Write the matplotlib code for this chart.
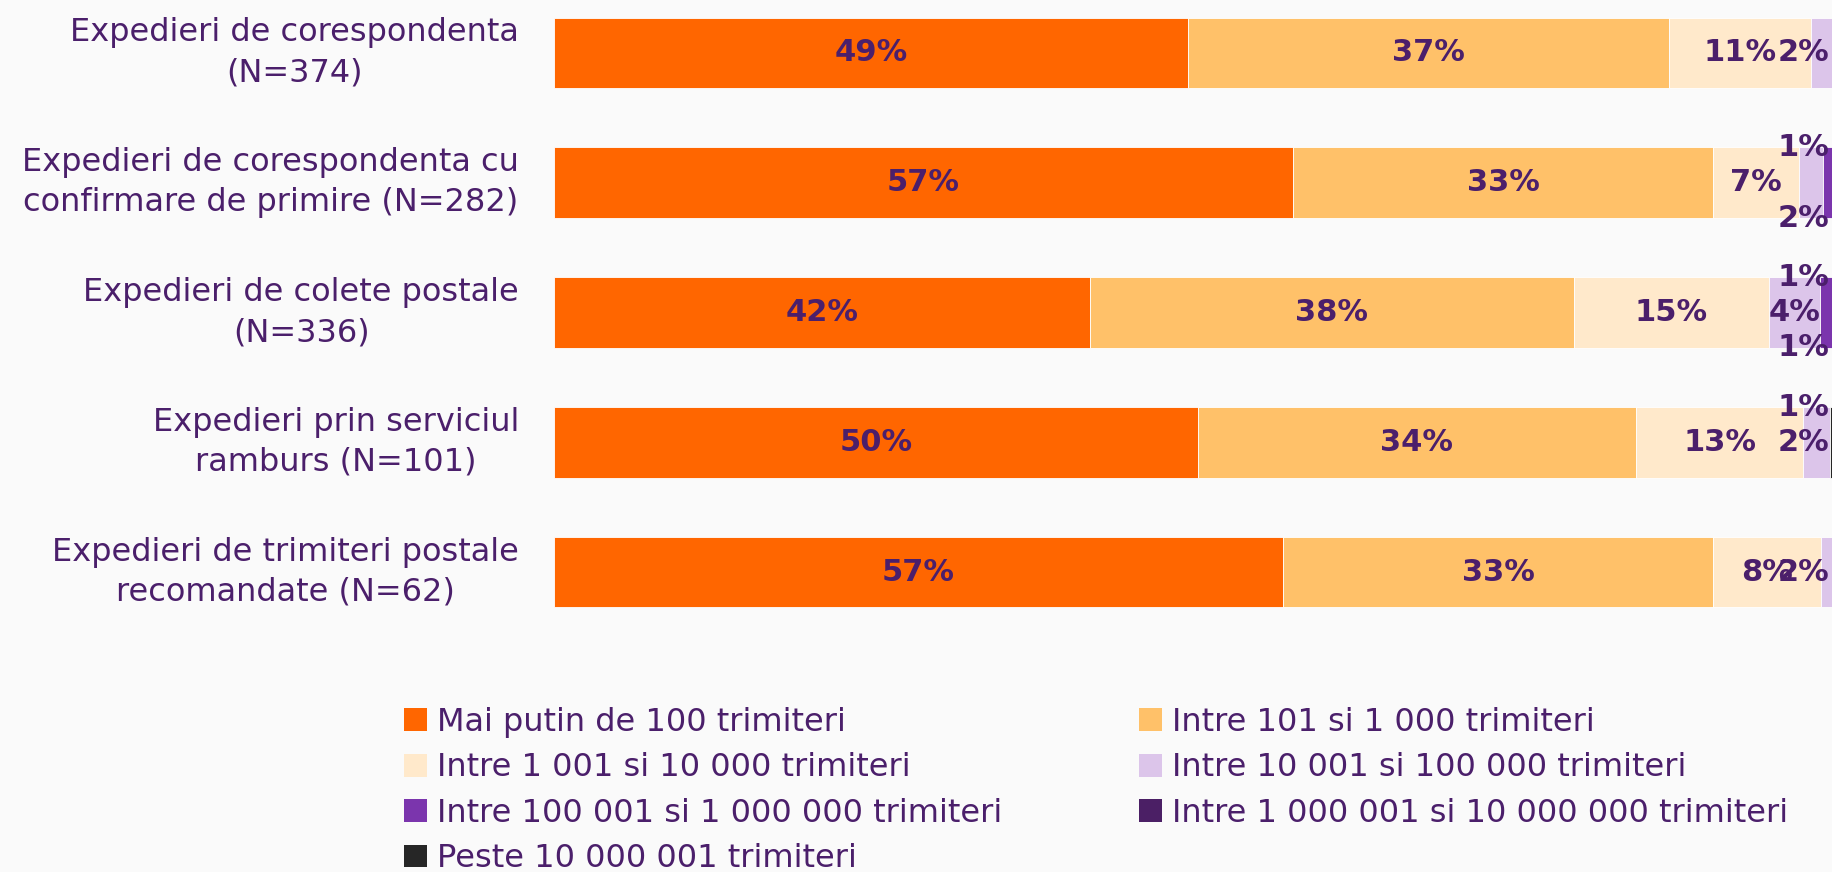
import numpy as np
import matplotlib.pyplot as plt
from matplotlib.patches import Patch

# data (segment widths, labels are rounded)
categories = [
    'Expedieri de corespondenta\n(N=374)',
    'Expedieri de corespondenta cu\nconfirmare de primire (N=282)',
    'Expedieri de colete postale\n(N=336)',
    'Expedieri prin serviciul\nramburs (N=101)',
    'Expedieri de trimiteri postale\nrecomandate (N=62)',
]
series_names = [
    'Mai putin de 100 trimiteri',
    'Intre 101 si 1 000 trimiteri',
    'Intre 1 001 si 10 000 trimiteri',
    'Intre 10 001 si 100 000 trimiteri',
    'Intre 100 001 si 1 000 000 trimiteri',
    'Intre 1 000 001 si 10 000 000 trimiteri',
    'Peste 10 000 001 trimiteri',
]
mai_putin_100 = [49.2, 57.4, 41.6, 50.0, 56.6]
intre_101 = [37.4, 32.6, 37.6, 34.0, 33.4]
intre_1001 = [11.0, 6.7, 15.1, 13.0, 8.4]
intre_10001 = [2.4, 1.8, 4.0, 2.1, 1.6]
intre_100001 = [0, 1.4, 1.0, 0, 0]
intre_1000001 = [0, 0, 0.7, 0, 0]
peste_10000001 = [0, 0, 0, 0.9, 0]

values = [mai_putin_100, intre_101, intre_1001, intre_10001,
          intre_100001, intre_1000001, peste_10000001]
colors = ['#ff6600', '#ffc169', '#ffe9cb', '#dcc5ea', '#7b35ad', '#4b1f65', '#262626']
txt = '#4b1f6b'
bg = '#fafafa'

# where the small labels were moved by hand: (series, bar) -> above / below
label_pos = {(3, 1): 'below', (4, 1): 'above', (4, 2): 'above',
             (5, 2): 'below', (6, 3): 'above'}

fig = plt.figure(figsize=(18.33, 8.72), dpi=100, facecolor=bg)
ax = fig.add_axes([0.3022, 0.2546, 0.7027, 0.7454])
ax.set_facecolor(bg)

y = np.arange(len(categories))
h = 0.544
left = np.zeros(len(categories))
for i, vals in enumerate(values):
    vals = np.array(vals, dtype=float)
    ax.barh(y, vals, left=left, height=h, color=colors[i],
            edgecolor='white', linewidth=0.6)
    for j, v in enumerate(vals):
        if v <= 0:
            continue
        xc = min(left[j] + v / 2, 97.0)
        pos = label_pos.get((i, j), 'center')
        yc = y[j] + {'center': 0, 'above': -h / 2, 'below': h / 2}[pos]
        ax.text(xc, yc, f'{round(v):d}%', ha='center', va='center',
                fontsize=22, fontweight='bold', color=txt, clip_on=False)
    left += vals

ax.set_xlim(0, 100)
ax.set_ylim(4.6, -0.408)
ax.set_yticks(y)
ax.set_yticklabels(categories, fontsize=23, color=txt, linespacing=1.38)
for lbl in ax.get_yticklabels():
    lbl.set_multialignment('center')
    lbl.set_verticalalignment('center')
ax.tick_params(axis='y', length=0, pad=25)
ax.set_xticks([])
for s in ax.spines.values():
    s.set_visible(False)

handles = [Patch(facecolor=c, edgecolor='none') for c in colors]
leg_kw = dict(loc='upper left', frameon=False, fontsize=23, labelcolor=txt,
              handlelength=0.72, handleheight=0.72, handletextpad=0.3,
              labelspacing=0.45, borderpad=0, borderaxespad=0)
fig.legend(handles[0::2], series_names[0::2],
           bbox_to_anchor=(404 / 1833, 1 - 707 / 872), **leg_kw)
fig.legend(handles[1::2], series_names[1::2],
           bbox_to_anchor=(1139 / 1833, 1 - 707 / 872), **leg_kw)

fig.savefig('out.png', dpi=100, facecolor=bg)
